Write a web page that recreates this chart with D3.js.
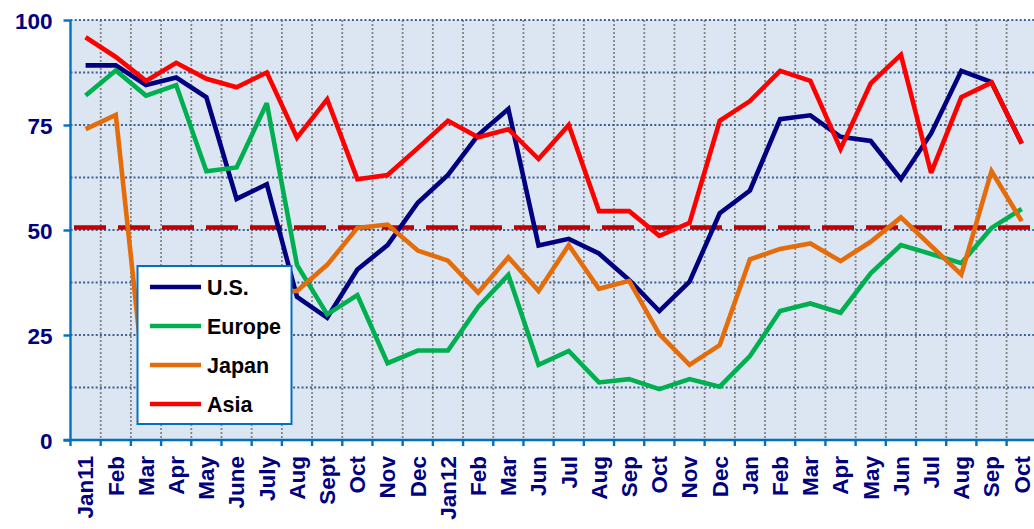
<!DOCTYPE html>
<html>
<head>
<meta charset="utf-8">
<script src="https://cdn.jsdelivr.net/npm/d3@7"></script>
<style>
  html, body { margin: 0; padding: 0; background: #ffffff; }
  svg { display: block; }
  text { font-family: "Liberation Sans", Arial, sans-serif; font-weight: bold; }
</style>
</head>
<body>
<script>
const categories = ["Jan11","Feb","Mar","Apr","May","June","July","Aug","Sept","Oct","Nov","Dec",
  "Jan12","Feb","Mar","Jun","Jul","Aug","Sep","Oct","Nov","Dec",
  "Jan","Feb","Mar","Apr","May","Jun","Jul","Aug","Sep","Oct"];
const us     = [89.2,89.2,84.5,86.3,81.6,57.4,60.9,34.1,29.1,40.6,46.4,56.5,63.1,72.6,78.8,46.3,47.9,44.4,38.1,30.7,37.7,54.0,59.4,76.4,77.3,72.2,71.2,62.1,73.0,87.9,85.2,70.6];
const europe = [82.0,88.0,82.0,84.5,64.0,64.9,80.2,41.7,29.9,34.5,18.3,21.3,21.3,31.7,39.3,17.9,21.2,13.7,14.5,12.1,14.5,12.7,20.0,30.7,32.5,30.3,39.7,46.4,44.3,42.1,50.5,55.0];
const japan  = [74.0,77.4,10.0,18.0,27.0,33.0,35.0,35.5,41.7,50.5,51.3,45.1,42.7,35.1,43.5,35.5,46.4,36.0,37.9,25.2,17.9,22.6,43.0,45.5,46.8,42.6,47.2,53.0,46.2,39.4,64.0,52.1];
const asia   = [95.9,91.2,85.5,89.8,86.0,84.0,87.5,72.0,81.1,62.1,63.1,69.5,76.0,72.1,74.0,66.9,75.0,54.5,54.5,48.6,51.7,76.0,80.7,87.9,85.5,69.3,84.9,91.7,63.6,81.6,85.1,70.6];
const yTicks = [0, 25, 50, 75, 100];
const yGrid = [12.5, 25, 37.5, 50, 62.5, 75, 87.5, 100];
const threshold = 50.6;
const seriesNames = ["U.S.", "Europe", "Japan", "Asia"];
const seriesColors = ["#000080", "#00b050", "#e46c0a", "#ff0000"];
const seriesData = [us, europe, japan, asia];

const W = 1034, H = 529;
const svg = d3.select("body").append("svg").attr("width", W).attr("height", H);

const idx = d3.range(categories.length);
const x = d3.scaleBand().domain(idx).range([70.5, 1036.8]).padding(0);
const y = d3.scaleLinear().domain([0, 100]).range([440, 20]);
const cx = i => x(i) + x.bandwidth() / 2;

// plot background
svg.append("rect").attr("x", x.range()[0]).attr("y", y(100))
  .attr("width", x.range()[1] - x.range()[0]).attr("height", y(0) - y(100))
  .attr("fill", "#dce6f2");

// vertical gridlines
svg.append("g").selectAll("line").data(idx.slice(1)).join("line")
  .attr("x1", i => x(i)).attr("x2", i => x(i))
  .attr("y1", y(100)).attr("y2", y(0))
  .attr("stroke", "#858585").attr("stroke-width", 1.8).attr("stroke-dasharray", "2,2");

// horizontal gridlines
svg.append("g").selectAll("line").data(yGrid).join("line")
  .attr("x1", x.range()[0]).attr("x2", W)
  .attr("y1", d => y(d)).attr("y2", d => y(d))
  .attr("stroke", "#3d5f93").attr("stroke-width", 2).attr("stroke-dasharray", "2,2.2");

// threshold dashed line
svg.append("line")
  .attr("x1", x.range()[0] + 3.5).attr("x2", W)
  .attr("y1", y(threshold)).attr("y2", y(threshold))
  .attr("stroke", "#c00000").attr("stroke-width", 4.5).attr("stroke-dasharray", "32,12");

// series lines
const line = d3.line().x((d, i) => cx(i)).y(d => y(d));
seriesData.forEach((s, k) => {
  svg.append("path").datum(s).attr("d", line)
    .attr("fill", "none").attr("stroke", seriesColors[k])
    .attr("stroke-width", 4.6).attr("stroke-linejoin", "miter").attr("stroke-miterlimit", 3);
});

// y axis
const yAxis = d3.axisLeft(y).tickValues(yTicks).tickSize(7).tickPadding(11).tickFormat(d3.format("d"));
const gy = svg.append("g").attr("transform", `translate(${x.range()[0]},0)`).call(yAxis);
gy.select(".domain").attr("stroke", "#0070c0").attr("stroke-width", 2.4).attr("d", `M0,${y(100)}V${y(0)}`);
gy.selectAll(".tick line").attr("stroke", "#0070c0").attr("stroke-width", 2.4);
gy.selectAll(".tick text").attr("fill", "#000080").attr("font-size", "22.5px")
  .attr("font-family", "'Liberation Sans', Arial, sans-serif").attr("font-weight", "bold").attr("dy", "0.36em");

// x axis
const xAxisLine = svg.append("g");
xAxisLine.append("line").attr("x1", x.range()[0] - 7).attr("x2", W)
  .attr("y1", y(0)).attr("y2", y(0)).attr("stroke", "#0070c0").attr("stroke-width", 2.4);
xAxisLine.selectAll("line.tk").data(d3.range(categories.length + 1)).join("line").attr("class", "tk")
  .attr("x1", i => x.range()[0] + i * x.bandwidth()).attr("x2", i => x.range()[0] + i * x.bandwidth())
  .attr("y1", y(0)).attr("y2", y(0) + 6).attr("stroke", "#0070c0").attr("stroke-width", 2.4);
xAxisLine.selectAll("text").data(idx).join("text")
  .attr("transform", i => `translate(${cx(i) + 7.8},${y(0) + 16}) rotate(-90)`)
  .attr("text-anchor", "end").attr("fill", "#000080").attr("font-size", "22.5px")
  .text(i => categories[i]);

// legend
const lg = svg.append("g");
lg.append("rect").attr("x", 137.5).attr("y", 266).attr("width", 154).attr("height", 158)
  .attr("fill", "#ffffff").attr("stroke", "#0070c0").attr("stroke-width", 2);
seriesNames.forEach((n, k) => {
  const yy = 287 + k * 39;
  lg.append("line").attr("x1", 150).attr("x2", 201).attr("y1", yy).attr("y2", yy)
    .attr("stroke", seriesColors[k]).attr("stroke-width", 4.5);
  lg.append("text").attr("x", 207).attr("y", yy).attr("dy", "0.36em")
    .attr("font-size", "21.5px").attr("fill", "#000000").text(n);
});
</script>
</body>
</html>
